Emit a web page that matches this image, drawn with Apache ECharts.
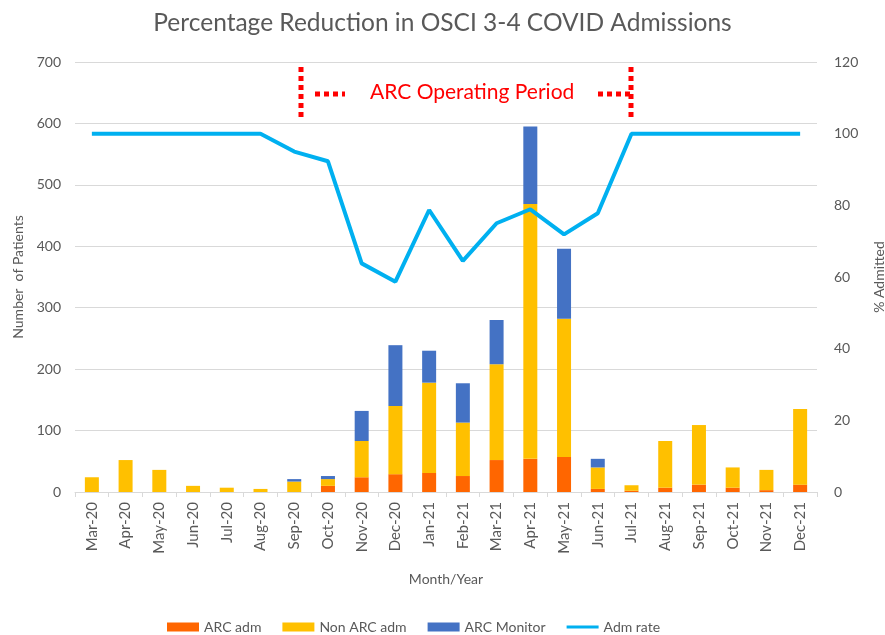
<!DOCTYPE html>
<html>
<head>
<meta charset="utf-8">
<script src="https://cdn.jsdelivr.net/npm/echarts@6/dist/echarts.min.js"></script>
<style>html,body{margin:0;padding:0;background:#fff;}#c{width:885px;height:635px;}</style>
</head>
<body>
<div id="c"></div>
<script>
const categories = ['Mar-20','Apr-20','May-20','Jun-20','Jul-20','Aug-20','Sep-20','Oct-20','Nov-20','Dec-20','Jan-21','Feb-21','Mar-21','Apr-21','May-21','Jun-21','Jul-21','Aug-21','Sep-21','Oct-21','Nov-21','Dec-21'];
const arcAdm     = [0, 0, 0, 0, 0, 0, 0, 10, 24, 29, 31, 26, 52, 54, 57, 5, 2, 7, 12, 7, 3, 12];
const nonArcAdm  = [24, 52, 36, 10, 7, 5, 17, 11, 59, 111, 147, 87, 156, 415, 225, 35, 9, 76, 97, 33, 33, 123];
const arcMonitor = [0, 0, 0, 0, 0, 0, 4, 5, 49, 99, 52, 64, 72, 126, 114, 14, 0, 0, 0, 0, 0, 0];
const admRate    = [100, 100, 100, 100, 100, 100, 95, 92.3, 63.8, 58.7, 78.7, 64.5, 75, 78.9, 71.9, 77.8, 100, 100, 100, 100, 100, 100];
const leftTicks = {min: 0, max: 700, interval: 100};
const rightTicks = {min: 0, max: 120, interval: 20};

const font = 'Lato, "Liberation Sans", sans-serif';
const grey = '#595959';
const chart = echarts.init(document.getElementById('c'), null, {renderer: 'canvas'});

function dots(x1, y1, x2, y2) {
  return {
    type: 'line',
    shape: {x1: x1, y1: y1, x2: x2, y2: y2},
    style: {stroke: '#FF0000', lineWidth: 5, lineDash: [5, 4]},
    z: 100
  };
}

chart.setOption({
  animation: false,
  backgroundColor: '#ffffff',
  textStyle: {fontFamily: font, color: grey},
  title: {
    text: 'Percentage Reduction in OSCI 3-4 COVID Admissions',
    left: 'center', top: 6,
    textStyle: {fontFamily: font, fontSize: 24.5, fontWeight: 'normal', color: grey}
  },
  grid: {left: 75, right: 68, top: 62, bottom: 143, containLabel: false, outerBoundsMode: 'none'},
  legend: {
    left: 162, top: 615,
    itemWidth: 32, itemHeight: 9, itemGap: 21,
    textStyle: {fontFamily: font, fontSize: 14, color: grey},
    data: [
      {name: 'ARC adm', icon: 'rect'},
      {name: 'Non ARC adm', icon: 'rect'},
      {name: 'ARC Monitor', icon: 'rect'},
      {name: 'Adm rate', icon: 'path://M0,0 H32 V3 H0 Z'}
    ]
  },
  xAxis: {
    type: 'category',
    data: categories,
    boundaryGap: true,
    name: 'Month/Year',
    nameLocation: 'middle',
    nameGap: 80,
    nameTextStyle: {fontFamily: font, fontSize: 14, color: grey},
    axisLine: {lineStyle: {color: '#d9d9d9', width: 1}},
    axisTick: {show: true, alignWithLabel: false, length: 5, lineStyle: {color: '#d9d9d9'}},
    axisLabel: {rotate: 90, fontFamily: font, fontSize: 15, color: grey, margin: 10, interval: 0}
  },
  yAxis: [
    {
      type: 'value', min: leftTicks.min, max: leftTicks.max, interval: leftTicks.interval,
      name: 'Number  of Patients', nameLocation: 'middle', nameGap: 50, nameRotate: 90,
      nameTextStyle: {fontFamily: font, fontSize: 14, color: grey},
      axisLine: {show: false}, axisTick: {show: false},
      axisLabel: {fontFamily: font, fontSize: 14, color: grey, margin: 14},
      splitLine: {lineStyle: {color: '#d9d9d9', width: 1}}
    },
    {
      type: 'value', min: rightTicks.min, max: rightTicks.max, interval: rightTicks.interval,
      name: '% Admitted', nameLocation: 'middle', nameGap: 55, nameRotate: 90,
      nameTextStyle: {fontFamily: font, fontSize: 14, color: grey},
      axisLine: {show: false}, axisTick: {show: false},
      axisLabel: {fontFamily: font, fontSize: 14, color: grey, margin: 17},
      splitLine: {show: false}
    }
  ],
  series: [
    {name: 'ARC adm', type: 'bar', stack: 'a', data: arcAdm, barWidth: 14, itemStyle: {color: '#FF6600'}},
    {name: 'Non ARC adm', type: 'bar', stack: 'a', data: nonArcAdm, barWidth: 14, itemStyle: {color: '#FFC000'}},
    {name: 'ARC Monitor', type: 'bar', stack: 'a', data: arcMonitor, barWidth: 14, itemStyle: {color: '#4472C4'}},
    {name: 'Adm rate', type: 'line', yAxisIndex: 1, data: admRate, symbol: 'none', showSymbol: false,
     lineStyle: {color: '#00B0F0', width: 4}, itemStyle: {color: '#00B0F0'}, z: 10}
  ],
  graphic: [
    dots(301, 67, 301, 119),
    dots(315, 94, 345, 94),
    dots(631, 67, 631, 119),
    dots(598, 94, 631, 94),
    {
      type: 'text', left: 370, top: 82,
      style: {text: 'ARC Operating Period', fill: '#FF0000', font: '21px ' + font},
      z: 100
    }
  ]
});
</script>
</body>
</html>
